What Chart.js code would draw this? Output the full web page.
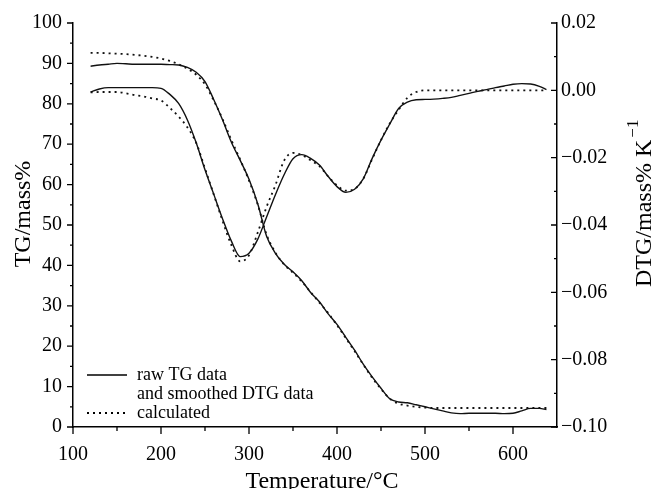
<!DOCTYPE html>
<html>
<head>
<meta charset="utf-8">
<script src="https://cdn.jsdelivr.net/npm/chart.js@4/dist/chart.umd.min.js"></script>
<style>
  html, body { margin: 0; padding: 0; background: #fff; }
  #wrap { width: 654px; height: 489px; }
</style>
</head>
<body>
<div id="wrap"><canvas id="tg"></canvas></div>
<script>
// temperatures (°C) shared by all four curves
const temps = [120,130,140,150,160,170,180,190,200,210,220,230,240,250,260,270,280,290,300,310,
  320,330,340,350,360,370,380,390,400,410,420,430,440,450,460,470,480,490,500,510,
  520,530,540,550,560,570,580,590,600,610,620,630,638];

// TG, mass% (left axis)
const tgRaw = [89.3,89.6,89.8,90.0,89.9,89.8,89.8,89.8,89.8,89.7,89.6,89.0,87.8,85.5,81.0,76.0,70.5,66.0,61.3,55.2,
  47.2,43.0,40.3,38.4,36.2,33.3,31.0,28.0,25.4,22.2,19.0,15.5,12.4,9.6,7.0,6.2,6.0,5.5,5.0,4.5,
  4.0,3.5,3.3,3.4,3.4,3.4,3.4,3.3,3.4,4.0,4.6,4.6,4.3];
const tgCalc = [92.6,92.6,92.5,92.4,92.3,92.1,91.9,91.6,91.2,90.6,89.8,88.7,87.2,84.8,80.8,76.2,71.0,66.2,61.0,55.0,
  47.6,43.2,40.2,38.2,36.0,33.4,30.8,28.2,25.2,22.0,18.8,15.4,12.2,9.4,7.0,5.8,5.3,5.0,4.8,4.7,
  4.7,4.7,4.7,4.7,4.7,4.7,4.7,4.7,4.7,4.7,4.7,4.7,4.7];

// DTG, mass% K^-1 (right axis)
const dtgSmooth = [-0.0005,0.0004,0.0008,0.0008,0.0008,0.0008,0.0008,0.0008,0.0006,-0.0012,-0.0039,-0.0088,-0.0156,-0.0236,-0.0309,-0.0382,-0.0448,-0.0494,-0.0484,-0.0442,
  -0.0376,-0.0310,-0.0250,-0.0203,-0.0191,-0.0202,-0.0222,-0.0256,-0.0286,-0.0303,-0.0294,-0.0262,-0.0202,-0.0148,-0.0100,-0.0054,-0.0035,-0.0028,-0.0027,-0.0026,
  -0.0024,-0.0021,-0.0015,-0.0009,-0.0003,0.0002,0.0008,0.0013,0.0018,0.0020,0.0019,0.0012,0.0002];
const dtgCalc = [-0.0006,-0.0005,-0.0005,-0.0005,-0.0009,-0.0014,-0.0018,-0.0024,-0.0030,-0.0052,-0.0078,-0.0110,-0.0156,-0.0232,-0.0310,-0.0388,-0.0460,-0.0508,-0.0490,-0.0422,
  -0.0346,-0.0282,-0.0208,-0.0186,-0.0192,-0.0208,-0.0225,-0.0256,-0.0282,-0.0298,-0.0293,-0.0262,-0.0204,-0.0148,-0.0098,-0.0058,-0.0022,-0.0005,0.0000,0.0000,
  0.0000,0.0000,0.0000,0.0000,0.0000,0.0000,0.0000,0.0000,0.0000,0.0000,0.0000,0.0000,0.0000];

// tick labels on the temperature axis
const tempTicks = [100, 200, 300, 400, 500, 600];
const legendLines = ['raw TG data', 'and smoothed DTG data', 'calculated'];

const pts = arr => arr.map((v, i) => ({x: temps[i], y: v}));
const FONT = "'Liberation Serif', 'Times New Roman', serif";
const DOTS = [2, 4];

Chart.defaults.font.family = FONT;
Chart.defaults.color = '#000';

function line(data, axis, dotted) {
  return {
    data: pts(data),
    yAxisID: axis,
    borderColor: '#111',
    borderWidth: dotted ? 1.8 : 1.4,
    borderDash: dotted ? DOTS : [],
    pointRadius: 0,
    cubicInterpolationMode: 'monotone',
    fill: false
  };
}

// ticks, titles and legend drawn by hand
const decor = {
  id: 'decor',
  afterDraw(chart) {
    const {ctx, chartArea: a, scales: {x, y, y1}} = chart;
    ctx.save();
    ctx.strokeStyle = '#000';
    ctx.lineWidth = 1.3;
    ctx.beginPath();
    for (let v = 100; v <= 600; v += 50) {
      const px = x.getPixelForValue(v), len = v % 100 ? 4 : 7;
      ctx.moveTo(px, a.bottom); ctx.lineTo(px, a.bottom + len);
    }
    for (let v = 0; v <= 100; v += 5) {
      const py = y.getPixelForValue(v), len = v % 10 ? 3 : 6;
      ctx.moveTo(a.left, py); ctx.lineTo(a.left - len, py);
    }
    for (let k = -10; k <= 2; k++) {
      const py = y1.getPixelForValue(k / 100), len = k % 2 ? 3 : 6;
      ctx.moveTo(a.right, py); ctx.lineTo(a.right - len, py);
    }
    ctx.stroke();

    // axis titles
    ctx.fillStyle = '#000';
    ctx.font = '24px ' + FONT;
    ctx.textAlign = 'center';
    ctx.textBaseline = 'alphabetic';
    ctx.fillText('Temperature/°C', 322, 488);

    ctx.save();
    ctx.translate(30, 214);
    ctx.rotate(-Math.PI / 2);
    ctx.fillText('TG/mass%', 0, 0);
    ctx.restore();

    ctx.save();
    ctx.translate(651, 287);
    ctx.rotate(-Math.PI / 2);
    ctx.textAlign = 'left';
    const main = 'DTG/mass% K';
    ctx.fillText(main, 0, 0);
    const w = ctx.measureText(main).width;
    ctx.font = '17px ' + FONT;
    ctx.fillText('\u22121', w + 2, -13);
    ctx.restore();

    // legend
    ctx.font = '18px ' + FONT;
    ctx.textAlign = 'left';
    ctx.textBaseline = 'middle';
    const lx = 87, tx = 137, rows = [375, 394, 413];
    ctx.lineWidth = 1.4;
    ctx.beginPath(); ctx.moveTo(lx, rows[0]); ctx.lineTo(lx + 40, rows[0]); ctx.stroke();
    ctx.lineWidth = 1.8;
    ctx.setLineDash(DOTS);
    ctx.beginPath(); ctx.moveTo(lx, rows[2]); ctx.lineTo(lx + 40, rows[2]); ctx.stroke();
    ctx.setLineDash([]);
    legendLines.forEach((t, i) => ctx.fillText(t, tx, rows[i]));
    ctx.restore();
  }
};

const ctx = document.getElementById('tg').getContext('2d');
new Chart(ctx, {
  type: 'line',
  data: {
    datasets: [
      line(tgRaw, 'y', false),
      line(tgCalc, 'y', true),
      line(dtgSmooth, 'y1', false),
      line(dtgCalc, 'y1', true)
    ]
  },
  options: {
    responsive: true,
    maintainAspectRatio: false,
    animation: false,
    layout: { padding: { top: 19, left: 0, right: 0, bottom: 0 } },
    plugins: { legend: { display: false }, tooltip: { enabled: false } },
    scales: {
      x: {
        type: 'linear', min: 100, max: 650,
        grid: { drawOnChartArea: false, drawTicks: false },
        border: { color: '#000', width: 1.5 },
        ticks: { padding: 16, autoSkip: false, maxRotation: 0, font: { size: 20 } },
        afterBuildTicks: s => { s.ticks = tempTicks.map(v => ({ value: v })); },
        afterFit: s => { s.height = 62; }
      },
      y: {
        position: 'left', min: 0, max: 100,
        grid: { drawOnChartArea: false, drawTicks: false },
        border: { color: '#000', width: 1.5 },
        ticks: { stepSize: 10, padding: 11, autoSkip: false, font: { size: 20 } },
        afterFit: s => { s.width = 73; }
      },
      y1: {
        position: 'right', min: -0.10, max: 0.02,
        grid: { drawOnChartArea: false, drawTicks: false },
        border: { color: '#000', width: 1.5 },
        ticks: {
          stepSize: 0.02, padding: 4, autoSkip: false, font: { size: 20 },
          callback: v => Math.abs(v) < 1e-9 ? '0.00' : v.toFixed(2).replace('-', '\u2212')
        },
        afterFit: s => { s.width = 97; }
      }
    }
  },
  plugins: [decor]
});
</script>
</body>
</html>
